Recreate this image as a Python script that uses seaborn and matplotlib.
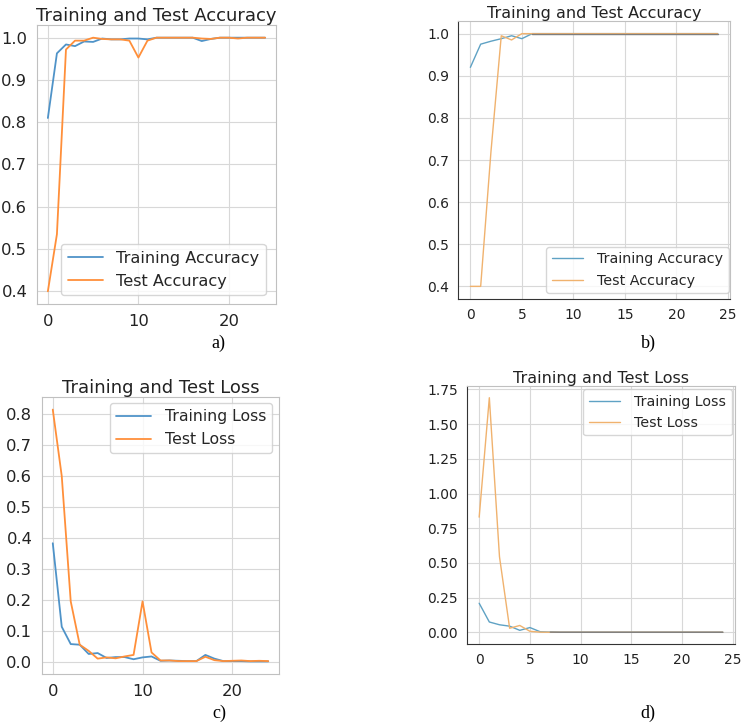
import numpy as np
import pandas as pd
import matplotlib
matplotlib.use("Agg")
import matplotlib.pyplot as plt
import seaborn as sns

epochs = list(range(25))

# Panel a
a_train_acc = [0.81, 0.963, 0.984, 0.980, 0.991, 0.990, 0.998, 0.996, 0.996, 0.998, 0.998, 0.996,
               1.0, 1.0, 1.0, 1.0, 1.0, 0.992, 0.997, 1.0, 1.0, 1.0, 1.0, 1.0, 1.0]
a_test_acc = [0.40, 0.535, 0.972, 0.993, 0.993, 1.0, 0.997, 0.996, 0.996, 0.993, 0.953, 0.993,
              1.0, 1.0, 1.0, 1.0, 1.0, 0.998, 0.997, 1.0, 1.0, 0.998, 1.0, 1.0, 1.0]
# Panel b
b_train_acc = [0.92, 0.975, 0.982, 0.988, 0.995, 0.988, 1.0, 1.0, 1.0, 1.0, 1.0, 1.0, 1.0,
               1.0, 1.0, 1.0, 1.0, 1.0, 1.0, 1.0, 1.0, 1.0, 1.0, 1.0, 1.0]
b_test_acc = [0.40, 0.40, 0.72, 0.995, 0.985, 1.0, 1.0, 1.0, 1.0, 1.0, 1.0, 1.0, 1.0,
              1.0, 1.0, 1.0, 1.0, 1.0, 1.0, 1.0, 1.0, 1.0, 1.0, 1.0, 1.0]
# Panel c
c_train_loss = [0.383, 0.113, 0.057, 0.055, 0.025, 0.028, 0.012, 0.015, 0.015, 0.008, 0.014, 0.017,
                0.003, 0.004, 0.003, 0.002, 0.002, 0.022, 0.010, 0.002, 0.002, 0.002, 0.001, 0.001, 0.001]
c_test_loss = [0.815, 0.60, 0.195, 0.055, 0.035, 0.010, 0.014, 0.011, 0.017, 0.022, 0.195, 0.030,
               0.004, 0.004, 0.002, 0.002, 0.002, 0.016, 0.005, 0.002, 0.003, 0.004, 0.002, 0.003, 0.002]
# Panel d
d_train_loss = [0.21, 0.075, 0.055, 0.045, 0.015, 0.035, 0.005, 0.002, 0.001, 0.001, 0.001, 0.001, 0.001,
                0.001, 0.001, 0.001, 0.001, 0.001, 0.001, 0.001, 0.001, 0.001, 0.001, 0.001, 0.001]
d_test_loss = [0.83, 1.69, 0.545, 0.03, 0.05, 0.008, 0.002, 0.001, 0.001, 0.001, 0.001, 0.001, 0.001,
               0.001, 0.001, 0.001, 0.001, 0.001, 0.001, 0.001, 0.001, 0.001, 0.001, 0.001, 0.001]

acc_ticks = [0.4, 0.5, 0.6, 0.7, 0.8, 0.9, 1.0]
c_loss_ticks = [0.0, 0.1, 0.2, 0.3, 0.4, 0.5, 0.6, 0.7, 0.8]
d_loss_ticks = [0.0, 0.25, 0.5, 0.75, 1.0, 1.25, 1.5, 1.75]
panel_labels = ["a)", "b)", "c)", "d)"]

sns.set_style("whitegrid")
plt.rcParams['font.family'] = ['DejaVu Sans']

W, H = 745, 727
fig = plt.figure(figsize=(W / 100, H / 100), dpi=100)
fig.patch.set_facecolor("white")


def add_ax(left, top, right, bottom):
    return fig.add_axes([left / W, 1 - bottom / H, (right - left) / W, (bottom - top) / H])


def style_ax(ax, small):
    ax.set_facecolor("white")
    ax.grid(True, color="#d8d8d8", linewidth=0.8)
    for s in ax.spines.values():
        s.set_color("#c0c0c0")
        s.set_linewidth(0.8)
    if small:
        ax.spines["left"].set_color("#333333")
        ax.spines["bottom"].set_color("#333333")
    ax.tick_params(axis="both", which="both", length=3 if small else 3.5,
                   color="#555555", labelsize=10 if small else 11.8, labelcolor="#222222")
    ax.set_xlabel("")
    ax.set_ylabel("")


C1_BLUE, C1_ORANGE = "#4f93c8", "#ff8f3a"
C2_BLUE, C2_ORANGE = "#5fa2c4", "#f0b26e"

# a
ax = add_ax(37, 25, 276, 304)
sns.lineplot(x=epochs, y=a_train_acc, ax=ax, color=C1_BLUE, linewidth=1.3, label="Training Accuracy")
sns.lineplot(x=epochs, y=a_test_acc, ax=ax, color=C1_ORANGE, linewidth=1.3, label="Test Accuracy")
style_ax(ax, False)
ax.set_xticks([0, 10, 20])
ax.set_yticks(acc_ticks)
ax.set_title("Training and Test Accuracy", fontsize=13, color="#222222", pad=3)
ax.legend(loc="lower right", fontsize=11.6, frameon=True, handlelength=2.2, borderpad=0.4,
          handletextpad=0.8, borderaxespad=0.2, bbox_to_anchor=(0.97, 0.02))

# b
ax = add_ax(458, 21, 730, 299)
sns.lineplot(x=epochs, y=b_train_acc, ax=ax, color=C2_BLUE, linewidth=1.0, label="Training Accuracy")
sns.lineplot(x=epochs, y=b_test_acc, ax=ax, color=C2_ORANGE, linewidth=1.0, label="Test Accuracy")
ax.plot(epochs[6:], b_train_acc[6:], color="#7f7f7f", linewidth=1.0)
style_ax(ax, True)
ax.set_xticks([0, 5, 10, 15, 20, 25])
ax.set_yticks(acc_ticks)
ax.set_title("Training and Test Accuracy", fontsize=11.5, color="#222222", pad=2)
ax.legend(loc="lower right", fontsize=10.3, frameon=True, handlelength=2.2, borderpad=0.4,
          handletextpad=1.0, borderaxespad=0.2, bbox_to_anchor=(1.007, 0.01))

# c
ax = add_ax(42, 397, 279, 674)
sns.lineplot(x=epochs, y=c_train_loss, ax=ax, color=C1_BLUE, linewidth=1.3, label="Training Loss")
sns.lineplot(x=epochs, y=c_test_loss, ax=ax, color=C1_ORANGE, linewidth=1.3, label="Test Loss")
style_ax(ax, False)
ax.set_xticks([0, 10, 20])
ax.set_yticks(c_loss_ticks)
ax.set_title("Training and Test Loss", fontsize=13, color="#222222", pad=3)
ax.legend(loc="upper right", fontsize=11.3, frameon=True, handlelength=2.2, borderpad=0.4,
          handletextpad=0.9, borderaxespad=0.2, bbox_to_anchor=(0.985, 0.99))

# d
ax = add_ax(467, 386, 735, 644)
sns.lineplot(x=epochs, y=d_train_loss, ax=ax, color=C2_BLUE, linewidth=1.0, label="Training Loss")
sns.lineplot(x=epochs, y=d_test_loss, ax=ax, color=C2_ORANGE, linewidth=1.0, label="Test Loss")
ax.plot(epochs[7:], d_train_loss[7:], color="#7f7f7f", linewidth=1.0)
style_ax(ax, True)
ax.set_xticks([0, 5, 10, 15, 20, 25])
ax.set_yticks(d_loss_ticks)
ax.set_yticklabels([f"{v:.2f}" for v in d_loss_ticks])
ax.set_title("Training and Test Loss", fontsize=11.5, color="#222222", pad=2)
ax.legend(loc="upper right", fontsize=10.3, frameon=True, handlelength=2.2, borderpad=0.4,
          handletextpad=1.0, borderaxespad=0.2, bbox_to_anchor=(1.0, 1.0))

# panel labels
for lab, (x, y) in zip(panel_labels, [(218, 343), (648, 343), (219, 713), (648, 713)]):
    fig.text(x / W, 1 - y / H, lab, ha="center", va="center", fontsize=13,
             family=["Liberation Serif", "DejaVu Serif"], color="black")

fig.savefig("out.png", dpi=100, facecolor="white")
